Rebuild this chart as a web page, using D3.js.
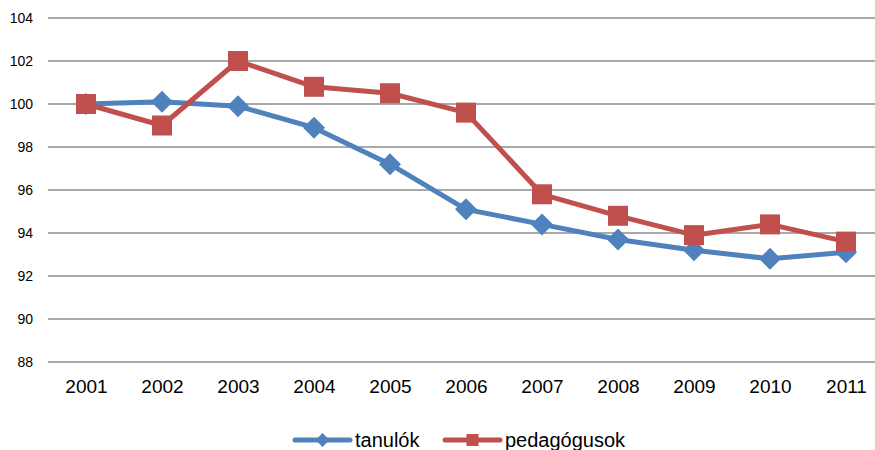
<!DOCTYPE html>
<html><head><meta charset="utf-8">
<script src="https://cdn.jsdelivr.net/npm/d3@7"></script>
<style>body{margin:0;background:#fff}svg{display:block}</style>
</head><body>
<svg id="c" width="875" height="450"></svg>
<script>
const years = ["2001","2002","2003","2004","2005","2006","2007","2008","2009","2010","2011"];
const tanulok = [100.0,100.1,99.9,98.9,97.2,95.1,94.4,93.7,93.2,92.8,93.1];
const pedagogusok = [100.0,99.0,102.0,100.8,100.5,99.6,95.8,94.8,93.9,94.4,93.6];
const yTicks = [88,90,92,94,96,98,100,102,104];
const seriesNames = ["tanulók","pedagógusok"];
const colors = ["#4f81bd","#c0504d"];

const svg = d3.select("#c");
const font = "'Liberation Sans', Arial, sans-serif";
const x = d3.scalePoint().domain(years).range([86, 846]);
const y = d3.scaleLinear().domain([88,104]).range([362, 18]);
const left = 48, right = 884;

// gridlines
svg.append("g").selectAll("line").data(yTicks).join("line")
  .attr("x1", left).attr("x2", right)
  .attr("y1", d => y(d)).attr("y2", d => y(d))
  .attr("stroke", "#8c8c8c").attr("stroke-width", 1.5);

// y axis labels
const yAxis = d3.axisLeft(y).tickValues(yTicks).tickSize(0).tickPadding(0);
const yg = svg.append("g").attr("transform", "translate(33,0)").call(yAxis);
yg.select(".domain").remove();
yg.selectAll("text").attr("font-family", font).attr("font-size", 14).attr("fill", "#000");

// x axis labels
const xAxis = d3.axisBottom(x).tickSize(0).tickPadding(0);
const xg = svg.append("g").attr("transform", "translate(0,379)").call(xAxis);
xg.select(".domain").remove();
xg.selectAll("text").attr("font-family", font).attr("font-size", 19).attr("fill", "#000").attr("dy", "0.71em");

const line = d3.line().x((d,i) => x(years[i])).y(d => y(d));
const data = [tanulok, pedagogusok];

function diamond(g, cx, cy, r, c) {
  g.append("path").attr("d", `M${cx},${cy-r}L${cx+r},${cy}L${cx},${cy+r}L${cx-r},${cy}Z`).attr("fill", c);
}
function square(g, cx, cy, s, c) {
  g.append("rect").attr("x", cx - s/2).attr("y", cy - s/2).attr("width", s).attr("height", s).attr("fill", c);
}

// series lines (blue first, red on top)
data.forEach((vals, k) => {
  const g = svg.append("g");
  g.append("path").attr("d", line(vals)).attr("fill", "none")
    .attr("stroke", colors[k]).attr("stroke-width", 5).attr("stroke-linejoin", "round");
  vals.forEach((v, i) => {
    if (k === 0) diamond(g, x(years[i]), y(v), 11, colors[k]);
    else square(g, x(years[i]), y(v), 20, colors[k]);
  });
});

// legend
const lg = svg.append("g");
const legendItems = [{x1:295, x2:350, tx:355}, {x1:445, x2:500, tx:505}];
legendItems.forEach((it, k) => {
  lg.append("line").attr("x1", it.x1).attr("x2", it.x2).attr("y1", 440).attr("y2", 440)
    .attr("stroke", colors[k]).attr("stroke-width", 5).attr("stroke-linecap", "round");
  const cx = (it.x1 + it.x2) / 2;
  if (k === 0) diamond(lg, cx, 440, 7, colors[k]);
  else square(lg, cx, 440, 12, colors[k]);
  lg.append("text").attr("x", it.tx).attr("y", 440).attr("dy", "0.35em")
    .attr("font-family", font).attr("font-size", 20).attr("fill", "#000").text(seriesNames[k]);
});
</script>
</body></html>
